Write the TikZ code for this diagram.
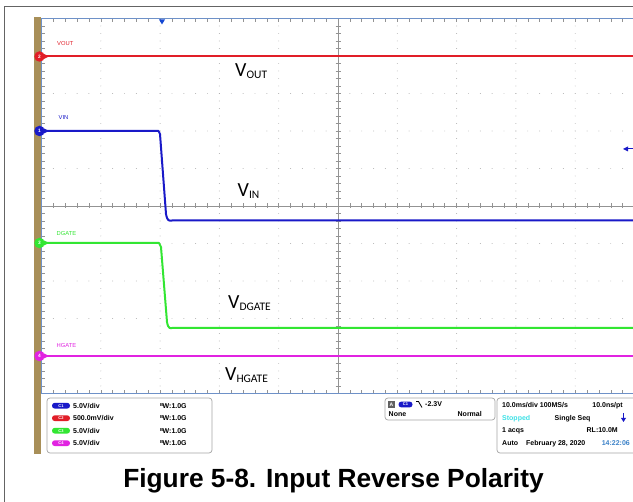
\documentclass[tikz,border=0pt]{standalone}
\usepackage{fontspec}
\setmainfont{Liberation Sans}
\newfontfamily\calfont{Carlito}
\usetikzlibrary{arrows.meta}
\definecolor{trA}{RGB}{25,25,200}
\definecolor{trB}{RGB}{225,30,40}
\definecolor{trC}{RGB}{50,230,50}
\definecolor{trD}{RGB}{225,35,225}
\definecolor{tanbar}{RGB}{168,143,88}
\definecolor{frameblue}{RGB}{110,145,200}
\definecolor{gridc}{RGB}{175,175,175}
\definecolor{cyanst}{RGB}{60,225,230}
\definecolor{timeblue}{RGB}{60,130,200}
\definecolor{outerc}{RGB}{100,100,100}
\newcommand\vsub[1]{V\raisebox{-2pt}{\fontsize{11.5}{12}\selectfont #1}}
\tikzset{
  trace/.style={line width=2pt, line join=round},
  chmark/.style={circle, inner sep=0pt, minimum size=10.5pt, text=white, font=\fontsize{4.8}{5}\selectfont\bfseries},
  chlabel/.style={anchor=base west, inner sep=0pt, font=\fontsize{5.8}{6}\selectfont},
  biglabel/.style={anchor=base west, inner sep=0pt, font=\calfont\fontsize{20}{22}\selectfont},
  info/.style={anchor=base west, inner sep=0pt, font=\fontsize{7}{8}\selectfont\bfseries},
  infor/.style={anchor=base east, inner sep=0pt, font=\fontsize{7}{8}\selectfont\bfseries},
  pill/.style={rounded corners=2.8pt, minimum width=18pt, minimum height=5.8pt, inner sep=0pt, text=white, font=\fontsize{4}{4}\selectfont\bfseries},
  infobox/.style={draw=gray!70, line width=0.7pt, rounded corners=3pt},
}
\begin{document}
\begin{tikzpicture}[x=1pt,y=-1pt]
\useasboundingbox (0,0) rectangle (633,502);
\fill[white] (0,0) rectangle (633,502);
% outer frame
\draw[outerc, line width=1.2pt] (4.5,502) -- (4.5,6.5) -- (633,6.5);
% tan bar
\fill[tanbar] (33.5,17) rectangle (40.5,454);
% grid dots
\foreach \i in {1,2,3,4,6,7,8,9} {
  \foreach \k in {1,...,49} {
    \fill[gridc] ({41.5+\i*59.3},{18.5+\k*7.5}) circle (0.45);
    \fill[gridc] ({41.5+\k*11.86},{18.5+\i*37.5}) circle (0.45);
  }
}
% center lines
\draw[gray!85, line width=0.6pt] (338,18.5) -- (338,393.5);
\draw[gray!85, line width=0.6pt] (41.5,206) -- (633,206);
% ticks
\foreach \k in {1,...,49} {
  \draw[gray!85, line width=0.5pt] ({41.5+\k*11.86},18.5) -- ++(0,3.5);
  \draw[gray!85, line width=0.5pt] ({41.5+\k*11.86},393.5) -- ++(0,-3.5);
  \draw[gray!85, line width=0.5pt] ({41.5+\k*11.86},203.5) -- ++(0,5);
  \draw[gray!85, line width=0.5pt] (41.5,{18.5+\k*7.5}) -- ++(3.5,0);
  \draw[gray!85, line width=0.5pt] (335.5,{18.5+\k*7.5}) -- ++(5,0);
}
% frame
\draw[frameblue, line width=1.6pt] (633,18.5) -- (41.5,18.5) -- (41.5,393.5) -- (633,393.5);
% trigger markers
\fill[trA!80!cyan] (159,19.5) -- (165,19.5) -- (162,24.5) -- cycle;
\draw[trA, line width=1pt] (627,149) -- (633,149);
\fill[trA] (623,149) -- (628,146.5) -- (628,151.5) -- cycle;
% traces
\draw[trace, trB] (44,56.5) -- (633,56.5);
\draw[trace, trA] (44,131) -- (158.5,131) -- (160,134) -- (166,214) .. controls (167.3,221) and (169,221) .. (172,220.5) -- (633,220.5);
\draw[trace, trC] (44,243) -- (159,243) -- (161,247) -- (167,322) .. controls (168.3,329) and (170,328.5) .. (173,327.8) -- (633,327.8);
\draw[trace, trD] (44,356) -- (633,356);
% channel markers
\foreach \y/\c/\n/\nm in {56.5/trB/2/mB, 131/trA/1/mA, 243/trC/3/mC, 356/trD/4/mD} {
  \fill[\c] (44,\y-2.5) -- (49,\y) -- (44,\y+2.5) -- cycle;
  \node[chmark, fill=\c] (\nm) at (39.5,\y) {\n};
}
% channel labels
\node[chlabel, text=trB] (lvout) at (57,45.5) {VOUT};
\node[chlabel, text=trA] (lvin) at (58.5,119.5) {VIN};
\node[chlabel, text=trC] (ldgate) at (56.5,235.5) {DGATE};
\node[chlabel, text=trD] (lhgate) at (56.5,347.5) {HGATE};
% big labels
\node[biglabel] (bvout) at (235,77) {\vsub{OUT}};
\node[biglabel] (bvin) at (237.5,196.5) {\vsub{IN}};
\node[biglabel] (bvdgate) at (228,309) {\vsub{DGATE}};
\node[biglabel] (bvhgate) at (225,380.5) {\vsub{HGATE}};
% left info box
\draw[infobox] (47,398) rectangle (212,453);
\foreach \y/\c/\t/\v/\nm in {405.7/trA/C1/5.0V\slash div/ia, 418.2/trB/C2/500.0mV\slash div/ib, 430.7/trC/C3/5.0V\slash div/ic, 443.2/trD/C4/5.0V\slash div/id} {
  \node[pill, fill=\c] (p\nm) at (61,\y) {\t};
  \node[info, anchor=west] (v\nm) at (73,\y) {\v};
  \node[info, anchor=west] (b\nm) at (160,\y) {\raisebox{1.8pt}{\fontsize{4.3}{4}\selectfont B}\kern-0.6pt W:1.0G};
}
% trigger box
\draw[infobox] (385,398) rectangle (495,420);
\node[fill=gray!75!black, text=white, inner sep=0pt, minimum width=7pt, minimum height=7pt, font=\fontsize{5}{5}\selectfont\bfseries] (tA) at (391.5,404.5) {A};
\node[pill, fill=trA, minimum width=14pt] (tC) at (405.5,404.5) {C1};
\draw[black, line width=0.8pt] (416,401.5) -- (418.5,401.5) -- (422,407.5);
\node[info, anchor=west] (tlev) at (425,404.5) {-2.3V};
\node[info] (tnone) at (388.5,417) {None};
\node[infor] (tnorm) at (482,417) {Normal};
% acquisition box
\draw[infobox] (640,398) -- (497,398) -- (497,453) -- (640,453);
\node[info] (a1) at (502,408) {10.0ms/div 100MS/s};
\node[infor] (a2) at (623,408) {10.0ns/pt};
\node[info, text=cyanst] (a3) at (502,420.5) {Stopped};
\node[info] (a4) at (554.5,420.5) {Single Seq};
\draw[trA, line width=1.2pt] (623.5,413) -- (623.5,419);
\fill[trA] (621,418) -- (626,418) -- (623.5,422) -- cycle;
\node[info] (a5) at (502,433) {1 acqs};
\node[infor] (a6) at (618,433) {RL:10.0M};
\node[info] (a7) at (502,446) {Auto};
\node[info] (a8) at (526,446) {February 28, 2020};
\node[infor, text=timeblue] (a9) at (630,446) {14:22:06};
% caption
\node[anchor=base, inner sep=0pt, font=\fontsize{26.3}{28}\selectfont\bfseries] (cap) at (333.5,488) {Figure 5-8. Input Reverse Polarity};
\end{tikzpicture}
\end{document}
